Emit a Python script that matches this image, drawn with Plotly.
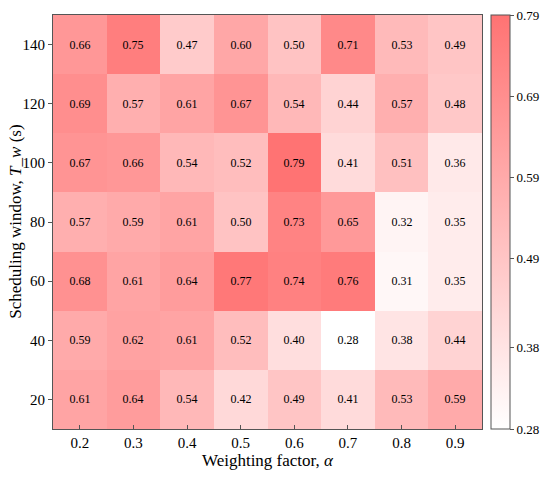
import plotly.graph_objects as go

# weighting factor alpha (x) and scheduling window T_w (y)
alphas = [0.2, 0.3, 0.4, 0.5, 0.6, 0.7, 0.8, 0.9]
windows = [20, 40, 60, 80, 100, 120, 140]

# values per row, bottom (20) to top (140)
row_20 = [0.61, 0.64, 0.54, 0.42, 0.49, 0.41, 0.53, 0.59]
row_40 = [0.59, 0.62, 0.61, 0.52, 0.40, 0.28, 0.38, 0.44]
row_60 = [0.68, 0.61, 0.64, 0.77, 0.74, 0.76, 0.31, 0.35]
row_80 = [0.57, 0.59, 0.61, 0.50, 0.73, 0.65, 0.32, 0.35]
row_100 = [0.67, 0.66, 0.54, 0.52, 0.79, 0.41, 0.51, 0.36]
row_120 = [0.69, 0.57, 0.61, 0.67, 0.54, 0.44, 0.57, 0.48]
row_140 = [0.66, 0.75, 0.47, 0.60, 0.50, 0.71, 0.53, 0.49]

cbar_ticks = [0.28, 0.38, 0.49, 0.59, 0.69, 0.79]

z = [row_20, row_40, row_60, row_80, row_100, row_120, row_140]

serif = "Liberation Serif, Times New Roman, serif"

fig = go.Figure()
fig.add_trace(go.Heatmap(
    x=alphas,
    y=windows,
    z=z,
    zmin=0.28,
    zmax=0.79,
    colorscale=[[0, "rgb(255,255,255)"], [1, "rgb(255,115,115)"]],
    texttemplate="%{z:.2f}",
    textfont=dict(family=serif, size=12, color="black"),
    xgap=0, ygap=0,
    colorbar=dict(
        x=1.021, xanchor="left", xpad=0, ypad=0,
        y=0.5, yanchor="middle", len=1.0, lenmode="fraction",
        thickness=19,
        outlinecolor="#555", outlinewidth=1,
        tickvals=cbar_ticks,
        ticktext=["%.2f" % t for t in cbar_ticks],
        ticks="outside", ticklen=4, tickcolor="#555",
        tickfont=dict(family=serif, size=13, color="black"),
    ),
))

fig.update_layout(
    width=550, height=477,
    margin=dict(l=53, r=68, t=15, b=48, autoexpand=False),
    plot_bgcolor="white", paper_bgcolor="white",
    font=dict(family=serif, color="black"),
    xaxis=dict(
        title=dict(text="Weighting factor, <i>α</i>", font=dict(size=17), standoff=3),
        tickvals=alphas, ticktext=["%.1f" % a for a in alphas],
        range=[0.15, 0.95],
        ticks="inside", ticklen=4, tickcolor="#555",
        showline=True, linecolor="#555", linewidth=1, mirror=True,
        showgrid=False, zeroline=False, automargin=False,
        tickfont=dict(size=15),
    ),
    yaxis=dict(
        tickvals=windows,
        range=[10, 150],
        ticks="outside", ticklen=4, tickcolor="#555",
        showline=True, linecolor="#555", linewidth=1, mirror=True,
        showgrid=False, zeroline=False, automargin=False,
        tickfont=dict(size=15),
    ),
)

# y title as a rotated annotation so it sits a little closer to the tick labels
fig.add_annotation(
    text="Scheduling window, <i>T</i>_<i>w</i> (s)",
    xref="paper", yref="paper", x=-0.089, y=0.5,
    xanchor="center", yanchor="middle", textangle=-90,
    showarrow=False, font=dict(family=serif, size=17, color="black"),
)

# drop the browser's default page margin so the figure sits at the window corner
fig.write_html("out.html", config={"displayModeBar": False},
               post_script="document.body.style.margin='0';")
